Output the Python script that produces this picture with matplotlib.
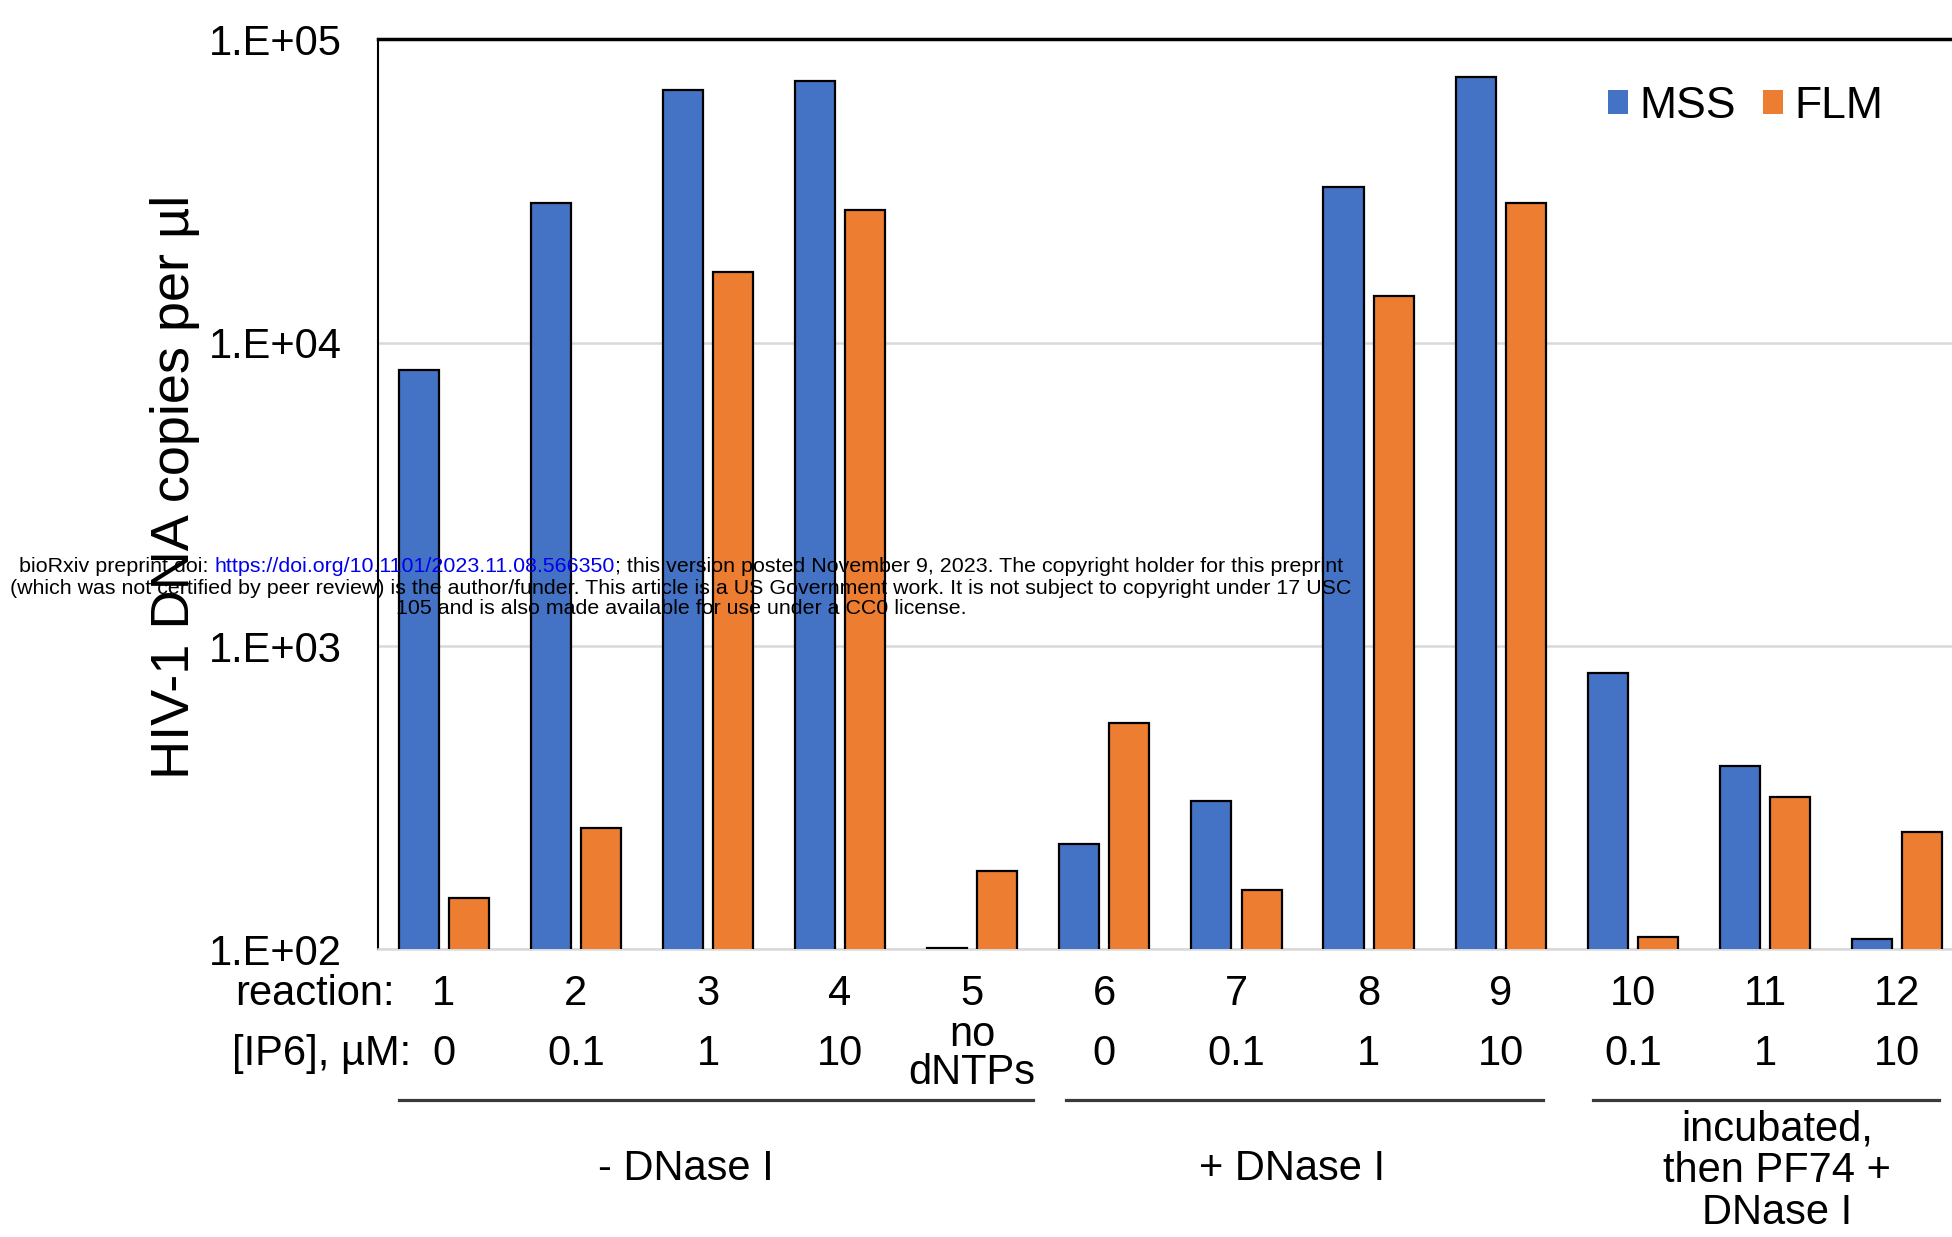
import matplotlib
matplotlib.use('Agg')
import matplotlib.pyplot as plt
from matplotlib.patches import Patch
from matplotlib.ticker import NullLocator
import numpy as np

plt.rcParams['font.family'] = ['Liberation Sans', 'DejaVu Sans']

#************************************
# Data
#************************************
reactions = ['1', '2', '3', '4', '5', '6', '7', '8', '9', '10', '11', '12']
ip6 = ['0', '0.1', '1', '10', 'no\ndNTPs', '0', '0.1', '1', '10', '0.1', '1', '10']
mss = [8150, 29000, 68300, 72700, 101, 223, 309, 32700, 75000, 817, 403, 108]
flm = [148, 252, 17100, 27500, 182, 559, 157, 14300, 29000, 110, 319, 244]
series = ['MSS', 'FLM']
groups = ['- DNase I', '+ DNase I', 'incubated,\nthen PF74 +\nDNase I']
yticks = [1e2, 1e3, 1e4, 1e5]
yticklabels = ['1.E+02', '1.E+03', '1.E+04', '1.E+05']

blue = '#4472C4'
orange = '#ED7D31'

#************************************
# Plot
#************************************
fig = plt.figure(figsize=(19.52, 12.37), dpi=100)
ax = fig.add_axes([0.1935, 0.2325, 0.8122, 0.7356])

x = np.arange(1, len(reactions) + 1)
w = 0.303
ax.bar(x - 0.19, mss, w, color=blue, edgecolor='black', linewidth=1.6, zorder=3)
ax.bar(x + 0.19, flm, w, color=orange, edgecolor='black', linewidth=1.6, zorder=3)

ax.set_yscale('log')
ax.set_ylim(1e2, 1e5)
ax.set_xlim(0.5, 12.5)
ax.set_yticks(yticks)
ax.set_yticklabels(yticklabels)
ax.yaxis.set_minor_locator(NullLocator())
ax.set_xticks([])
ax.tick_params(axis='y', length=0, pad=26, labelsize=30)
ax.yaxis.grid(True, color='#D9D9D9', linewidth=1.8)
ax.set_axisbelow(True)

ax.spines['top'].set_linewidth(2.5)
ax.spines['left'].set_linewidth(1.5)
ax.spines['bottom'].set_color('#D9D9D9')
ax.spines['bottom'].set_linewidth(1.8)
ax.spines['right'].set_visible(False)

ax.text(-0.128, 0.508, 'HIV-1 DNA copies per µl', transform=ax.transAxes,
        rotation=90, ha='center', va='center', fontsize=39)

# category rows under the axis
tr = ax.get_xaxis_transform()
ax.text(0.625, -0.049, 'reaction:', transform=tr, ha='right', va='center', fontsize=30)
ax.text(0.754, -0.115, '[IP6], µM:', transform=tr, ha='right', va='center', fontsize=30)
for xi, r, c in zip(x, reactions, ip6):
    ax.text(xi, -0.049, r, transform=tr, ha='center', va='center', fontsize=30)
    ax.text(xi, -0.115, c, transform=tr, ha='center', va='center', fontsize=30,
            linespacing=0.95)

# group brackets
spans = [(0.66, 5.46), (5.71, 9.32), (9.70, 12.32)]
centers = [2.83, 7.42, 11.09]
for (a, b), cx, g in zip(spans, centers, groups):
    ax.plot([a, b], [-0.166, -0.166], transform=tr, clip_on=False,
            color='#3a3a3a', linewidth=2.3)
    yy = -0.2437 if '\n' in g else -0.241
    ax.text(cx, yy, g, transform=tr, ha='center', va='center', fontsize=30,
            linespacing=1.05)

handles = [Patch(facecolor=blue), Patch(facecolor=orange)]
fig.legend(handles, series, loc='center left', bbox_to_anchor=(0.8238, 0.914),
           ncol=2, frameon=False, fontsize=32, handlelength=0.45, handleheight=0.45,
           handletextpad=0.25, columnspacing=0.62, borderpad=0, borderaxespad=0)

#************************************
# bioRxiv stamp
#************************************
renderer = fig.canvas.get_renderer()
fs = 15.4
cx = 681 / 1952.0
line1 = [('bioRxiv preprint doi: ', 'black'),
         ('https://doi.org/10.1101/2023.11.08.566350', '#0000EE'),
         ('; this version posted November 9, 2023. The copyright holder for this preprint', 'black')]
y1 = 1 - 567 / 1237.0
parts = []
for s, col in line1:
    t = fig.text(0, y1, s, fontsize=fs, color=col, va='center', ha='left', zorder=10)
    parts.append(t)
widths = [t.get_window_extent(renderer).width for t in parts]
start = cx * 1952 - sum(widths) / 2
for t, wd in zip(parts, widths):
    t.set_x(start / 1952.0)
    start += wd
fig.text(cx, 1 - 588 / 1237.0, '(which was not certified by peer review) is the author/funder. '
         'This article is a US Government work. It is not subject to copyright under 17 USC',
         fontsize=fs, ha='center', va='center', zorder=10)
fig.text(cx, 1 - 609 / 1237.0, '105 and is also made available for use under a CC0 license.',
         fontsize=fs, ha='center', va='center', zorder=10)

fig.savefig('out.png', dpi=100)
